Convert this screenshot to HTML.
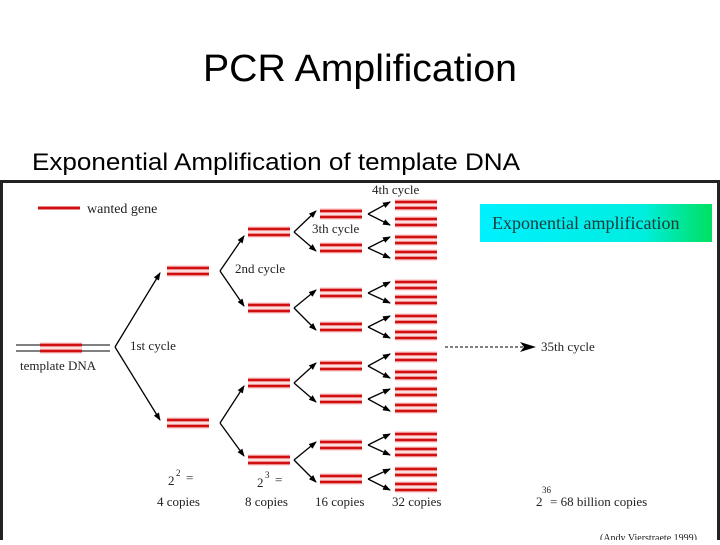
<!DOCTYPE html>
<html><head><meta charset="utf-8"><style>
body{margin:0;width:720px;height:540px;background:#fff;overflow:hidden;font-family:"Liberation Sans",sans-serif}
</style></head><body>
<svg width="720" height="540" xmlns="http://www.w3.org/2000/svg">
<defs>
<marker id="a" markerWidth="8" markerHeight="6" refX="7" refY="3" orient="auto" markerUnits="userSpaceOnUse"><path d="M0,0L8,3L0,6z" fill="#000"/></marker>
<marker id="b" markerWidth="16" markerHeight="10" refX="15" refY="5" orient="auto" markerUnits="userSpaceOnUse"><path d="M0,0L16,5L0,10L4,5z" fill="#000"/></marker>
<linearGradient id="g" x1="0" x2="1"><stop offset="0" stop-color="#00f0ff"/><stop offset="0.7" stop-color="#00eee0"/><stop offset="1" stop-color="#00e060"/></linearGradient>
</defs>
<text x="360" y="81" font-size="38" text-anchor="middle" fill="#000" textLength="314" lengthAdjust="spacingAndGlyphs">PCR Amplification</text>
<text x="32" y="170" font-size="24" fill="#000" textLength="488" lengthAdjust="spacingAndGlyphs">Exponential Amplification of template DNA</text>
<rect x="1.5" y="181.5" width="717" height="362" fill="#fff" stroke="#222" stroke-width="3"/>
<g font-family="Liberation Serif,serif" fill="#222" font-size="13">
<line x1="38" y1="208" x2="80" y2="208" stroke="#d01010" stroke-width="3"/>
<text x="87" y="213" font-size="14">wanted gene</text>
<line x1="16" y1="345" x2="110" y2="345" stroke="#000" stroke-width="1"/>
<line x1="16" y1="351" x2="110" y2="351" stroke="#000" stroke-width="1"/>
<text x="20" y="370">template DNA</text>
<text x="130" y="350">1st cycle</text>
<text x="235" y="273">2nd cycle</text>
<text x="312" y="233">3th cycle</text>
<text x="372" y="194">4th cycle</text>
<text x="168" y="485">2</text><text x="176" y="476" font-size="9">2</text><text x="186" y="482">=</text>
<text x="157" y="506">4 copies</text>
<text x="257" y="487">2</text><text x="265" y="478" font-size="9">3</text><text x="275" y="484">=</text>
<text x="245" y="506">8 copies</text>
<text x="315" y="506">16 copies</text>
<text x="392" y="506">32 copies</text>
<text x="541" y="351">35th cycle</text>
<text x="536" y="506">2</text><text x="542" y="493" font-size="9">36</text><text x="550" y="506">= 68 billion copies</text>
<text x="600" y="541" font-size="10">(Andy Vierstraete 1999)</text>
<rect x="480" y="204" width="232" height="38" fill="url(#g)"/>
<text x="492" y="229" font-size="18" fill="#1a3a3a">Exponential amplification</text>
</g>
<line x1="445" y1="347" x2="535" y2="347" stroke="#000" stroke-dasharray="3,2" marker-end="url(#b)"/>
<g id="bars" stroke-width="3"></g>
<g id="arr" stroke="#000" stroke-width="1.3" fill="none"></g>
<script>
var ns="http://www.w3.org/2000/svg",B=document.getElementById('bars'),A=document.getElementById('arr');
function L(p,x1,y1,x2,y2,s,w,m){var l=document.createElementNS(ns,'line');l.setAttribute('x1',x1);l.setAttribute('y1',y1);l.setAttribute('x2',x2);l.setAttribute('y2',y2);if(s)l.setAttribute('stroke',s);if(w)l.setAttribute('stroke-width',w);if(m)l.setAttribute('marker-end','url(#a)');p.appendChild(l);}
function bar(x,c){L(B,x,c-3,x+42,c-3,'#f8b8b8',5);L(B,x,c+3,x+42,c+3,'#f8b8b8',5);L(B,x,c-3,x+42,c-3,'#d01010',2.5);L(B,x,c+3,x+42,c+3,'#d01010',2.5);}
function fork(x,y,x2,ya,yb){L(A,x,y,x2,ya,0,0,1);L(A,x,y,x2,yb,0,0,1);}
bar(40,348);
fork(115,347,160,273,420);
var g1=[271,423];g1.forEach(function(c){bar(167,c)});
var g2=[232,308,383,460];g2.forEach(function(c){bar(248,c)});
fork(220,271,244,236,306);fork(220,423,244,386,456);
var g3=[214,248,293,327,366,399,445,479];g3.forEach(function(c){bar(320,c)});
for(var i=0;i<4;i++)fork(294,g2[i],316,g3[2*i]-3,g3[2*i+1]+3);
var g4=[205,222,240,255,285,300,319,335,357,375,392,408,437,452,472,487];g4.forEach(function(c){bar(395,c)});
for(var i=0;i<8;i++)fork(368,g3[i],390,g4[2*i]-3,g4[2*i+1]+3);
</script>
</svg>
</body></html>
